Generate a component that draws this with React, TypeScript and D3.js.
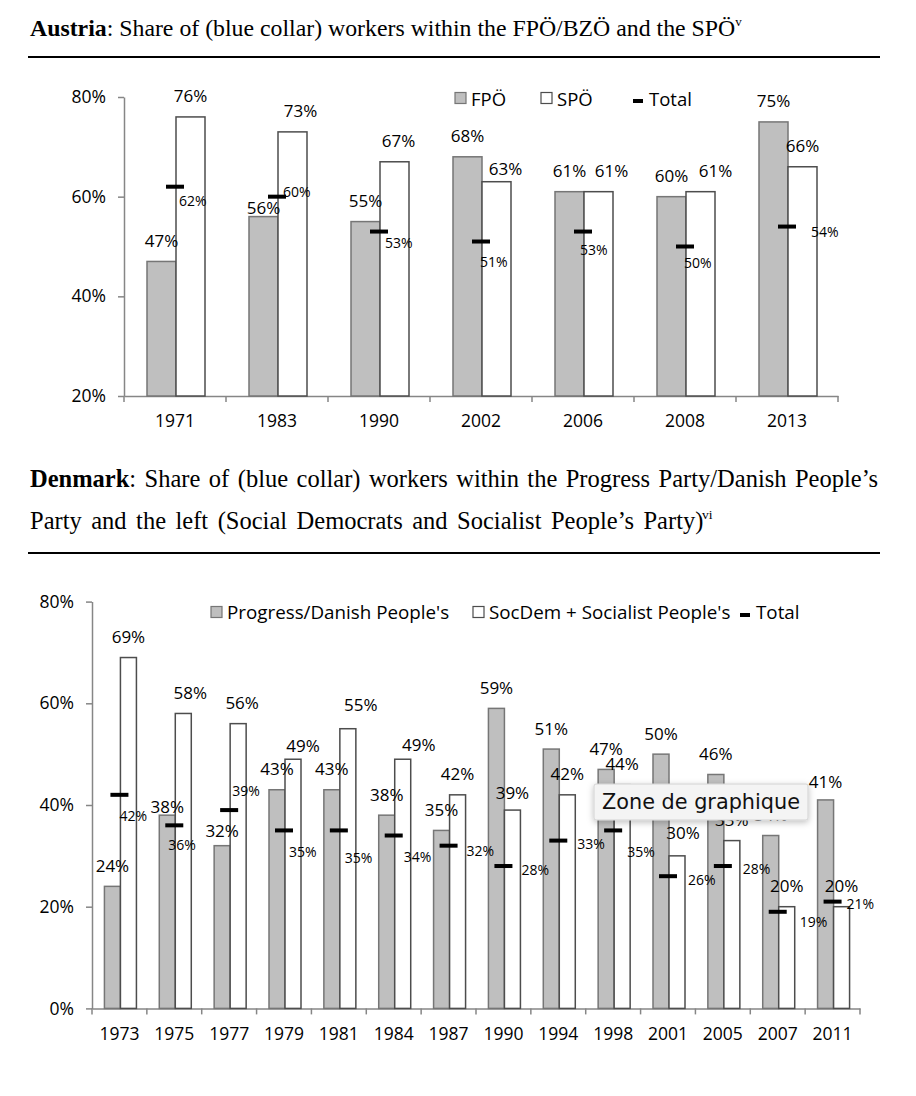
import React, { useEffect, useRef } from 'react';
import * as d3 from 'd3';

// Austria
const atYears = ['1971', '1983', '1990', '2002', '2006', '2008', '2013'];
const atFpo = [47, 56, 55, 68, 61, 60, 75];
const atSpo = [76, 73, 67, 63, 61, 61, 66];
const atTotal = [62, 60, 53, 51, 53, 50, 54];
const atTicks = [20, 40, 60, 80];

// Denmark
const dkYears = ['1973', '1975', '1977', '1979', '1981', '1984', '1987', '1990', '1994', '1998', '2001', '2005', '2007', '2011'];
const dkProgress = [24, 38, 32, 43, 43, 38, 35, 59, 51, 47, 50, 46, 34, 41];
const dkLeft = [69, 58, 56, 49, 55, 49, 42, 39, 42, 44, 30, 33, 20, 20];
const dkTotal = [42, 36, 39, 35, 35, 34, 32, 28, 33, 35, 26, 28, 19, 21];
const dkTicks = [0, 20, 40, 60, 80];

// label nudges, the way Excel shuffled them about: [dx, dy]
const atGrayNudge: Record<number, number[]> = { 1: [0, 12] };
const atWhiteNudge: Record<number, number[]> = { 1: [8, 0], 2: [4, 0], 3: [9, 8], 4: [13, 0], 5: [15, 0] };
const atTotalNudge = [[4, 14], [6, -5], [6, 11], [-1, 20], [-3, 18], [-1, 16], [24, 5]];

const dkGrayNudge: Record<number, number[]> = { 1: [0, 12], 2: [0, 6], 13: [0, 3] };
const dkWhiteNudge: Record<number, number[]> = { 1: [7, 0], 2: [4, 0], 3: [10, 7], 4: [13, -3], 5: [16, 6], 7: [0, 3], 10: [6, -2] };
const dkTotalNudge = [[0, 21], [-6, 19], [3, -20], [5, 21], [6, 27], [10, 21], [18, 5], [18, 3], [19, 3], [14, 21], [20, 3], [20, 2], [22, 10], [14, 2]];

const FONT = '"Open Sans", "Noto Sans", sans-serif';
const SERIF = '"Liberation Serif", "Times New Roman", serif';
const AXIS = '#868686';
const GRAY = '#bfbfbf';

type Cfg = {
  years: string[]; a: number[]; b: number[]; total: number[]; ticks: number[];
  left: number; right: number; top: number; bottom: number; yMin: number; yMax: number;
  pair: [number, number];
  aNudge: Record<number, number[]>; bNudge: Record<number, number[]>; tNudge: number[][];
  legend: { kind: string; x: number; label: string }[]; legendY: number; legendSize: number;
};

function drawChart(svg: d3.Selection<SVGSVGElement, unknown, null, undefined>, c: Cfg) {
  const g = svg.append('g');
  const x0 = d3.scaleBand<string>().domain(c.years).range([c.left, c.right]);
  const bw = x0.bandwidth();
  const x1 = d3.scaleBand<string>().domain(['a', 'b']).range([bw / 2 + c.pair[0], bw / 2 + c.pair[1]]);
  const y = d3.scaleLinear().domain([c.yMin, c.yMax]).range([c.bottom, c.top]);
  const mid = (i: number) => (x0(c.years[i]) ?? 0) + bw / 2;

  // y axis
  const ya = g.append('g')
    .attr('transform', `translate(${c.left},0)`)
    .call(d3.axisLeft(y).tickValues(c.ticks).tickFormat(d => `${d}%`).tickSize(6).tickSizeOuter(0).tickPadding(12));
  ya.select('.domain').attr('stroke', AXIS).attr('stroke-width', 1.5);
  ya.selectAll('.tick line').attr('stroke', AXIS).attr('stroke-width', 1.5);
  ya.selectAll('.tick text').attr('font-family', FONT).attr('font-size', 17.5).attr('fill', '#000');

  // x axis
  const xa = g.append('g')
    .attr('transform', `translate(0,${c.bottom})`)
    .call(d3.axisBottom(x0).tickSize(0).tickSizeOuter(0).tickPadding(19));
  xa.select('.domain').attr('stroke', AXIS).attr('stroke-width', 1.5);
  xa.selectAll('.tick text').attr('font-family', FONT).attr('font-size', 17.5).attr('fill', '#000');
  g.append('g')
    .selectAll('line')
    .data([...c.years.map(d => x0(d) ?? 0), c.right])
    .join('line')
    .attr('x1', d => d).attr('x2', d => d)
    .attr('y1', c.bottom).attr('y2', c.bottom + 6)
    .attr('stroke', AXIS).attr('stroke-width', 1.5);

  // bars
  g.append('g').selectAll('rect').data(c.a).join('rect')
    .attr('x', (d, i) => (x0(c.years[i]) ?? 0) + (x1('a') ?? 0))
    .attr('y', d => y(d))
    .attr('width', x1.bandwidth())
    .attr('height', d => c.bottom - y(d))
    .attr('fill', GRAY).attr('stroke', '#767676').attr('stroke-width', 1.5);
  g.append('g').selectAll('rect').data(c.b).join('rect')
    .attr('x', (d, i) => (x0(c.years[i]) ?? 0) + (x1('b') ?? 0))
    .attr('y', d => y(d))
    .attr('width', x1.bandwidth())
    .attr('height', d => c.bottom - y(d))
    .attr('fill', '#fff').attr('stroke', '#4d4d4d').attr('stroke-width', 1.5);

  // total markers
  g.append('g').selectAll('rect').data(c.total).join('rect')
    .attr('x', (d, i) => mid(i) - 9)
    .attr('y', d => y(d) - 2)
    .attr('width', 18).attr('height', 4)
    .attr('fill', '#000');

  // value labels
  const barLabels = (vals: number[], key: string, nudge: Record<number, number[]>) => {
    g.append('g').selectAll('text').data(vals).join('text')
      .attr('x', (d, i) => (x0(c.years[i]) ?? 0) + (x1(key) ?? 0) + x1.bandwidth() / 2 + (nudge[i]?.[0] ?? 0))
      .attr('y', (d, i) => y(d) - 21 + (nudge[i]?.[1] ?? 0))
      .attr('text-anchor', 'middle')
      .attr('dominant-baseline', 'central')
      .attr('font-family', FONT).attr('font-size', 17).attr('fill', '#000')
      .text(d => `${d}%`);
  };
  barLabels(c.a, 'a', c.aNudge);
  barLabels(c.b, 'b', c.bNudge);

  g.append('g').selectAll('text').data(c.total).join('text')
    .attr('x', (d, i) => mid(i) + c.tNudge[i][0])
    .attr('y', (d, i) => y(d) + c.tNudge[i][1])
    .attr('dominant-baseline', 'central')
    .attr('font-family', FONT).attr('font-size', 14).attr('fill', '#000')
    .text(d => `${d}%`);

  // legend
  const lg = g.append('g');
  c.legend.forEach(item => {
    if (item.kind === 't') {
      lg.append('rect').attr('x', item.x).attr('y', c.legendY + 1).attr('width', 10).attr('height', 4).attr('fill', '#000');
    } else {
      lg.append('rect').attr('x', item.x).attr('y', c.legendY - 5.5).attr('width', 11).attr('height', 11)
        .attr('fill', item.kind === 'a' ? GRAY : '#fff')
        .attr('stroke', item.kind === 'a' ? '#767676' : '#4d4d4d').attr('stroke-width', 1.2);
    }
    lg.append('text')
      .attr('x', item.x + 16).attr('y', c.legendY)
      .attr('dominant-baseline', 'central')
      .attr('font-family', FONT).attr('font-size', c.legendSize).attr('fill', '#000')
      .text(item.label);
  });
}

// stretch the word gaps of a text so that it spans the given width
function fitWidth(t: d3.Selection<SVGTextElement, unknown, null, undefined>, width: number, gaps: number) {
  const len = (t.node() as SVGTextElement).getComputedTextLength();
  t.attr('word-spacing', (width - len) / gaps);
}

const App: React.FC = () => {
  const svgRef = useRef<SVGSVGElement>(null);

  useEffect(() => {
    const svg = d3.select(svgRef.current!);
    svg.selectAll('*').remove();

    const defs = svg.append('defs');
    defs.append('filter').attr('id', 'shadow').attr('x', '-20%').attr('y', '-40%').attr('width', '140%').attr('height', '200%')
      .append('feDropShadow').attr('dx', 0).attr('dy', 2).attr('stdDeviation', 3).attr('flood-opacity', 0.25);

    // Austria title
    const t1 = svg.append('text').attr('x', 30).attr('y', 36)
      .attr('font-family', SERIF).attr('font-size', 23.8).attr('fill', '#000');
    t1.append('tspan').attr('font-weight', 'bold').text('Austria');
    t1.append('tspan').text(': Share of (blue collar) workers within the FPÖ/BZÖ and the SPÖ');
    t1.append('tspan').attr('font-size', 13).attr('dy', -10).text('v');
    svg.append('line').attr('x1', 28).attr('x2', 880).attr('y1', 57).attr('y2', 57).attr('stroke', '#000').attr('stroke-width', 2);

    drawChart(svg, {
      years: atYears, a: atFpo, b: atSpo, total: atTotal, ticks: atTicks,
      left: 124, right: 838, top: 97, bottom: 396, yMin: 20, yMax: 80,
      pair: [-28, 30],
      aNudge: atGrayNudge, bNudge: atWhiteNudge, tNudge: atTotalNudge,
      legend: [{ kind: 'a', x: 455, label: 'FPÖ' }, { kind: 'b', x: 541, label: 'SPÖ' }, { kind: 't', x: 633, label: 'Total' }],
      legendY: 98, legendSize: 18.5,
    });

    // Denmark title (first line justified)
    const d1 = svg.append('text').attr('x', 30).attr('y', 487)
      .attr('font-family', SERIF).attr('font-size', 24.5).attr('fill', '#000');
    d1.append('tspan').attr('font-weight', 'bold').text('Denmark');
    d1.append('tspan').text(': Share of (blue collar) workers within the Progress Party/Danish People’s');
    fitWidth(d1, 848, 10);
    const d2 = svg.append('text').attr('x', 30).attr('y', 529)
      .attr('font-family', SERIF).attr('font-size', 24.5).attr('fill', '#000');
    d2.text('Party and the left (Social Democrats and Socialist People’s Party)');
    fitWidth(d2, 670, 8);
    svg.append('text').attr('x', 702).attr('y', 519)
      .attr('font-family', SERIF).attr('font-size', 13.5).attr('fill', '#000')
      .text('vi');
    svg.append('line').attr('x1', 28).attr('x2', 880).attr('y1', 553).attr('y2', 553).attr('stroke', '#000').attr('stroke-width', 2);

    drawChart(svg, {
      years: dkYears, a: dkProgress, b: dkLeft, total: dkTotal, ticks: dkTicks,
      left: 92, right: 860, top: 601.6, bottom: 1008.4, yMin: 0, yMax: 80,
      pair: [-15, 17],
      aNudge: dkGrayNudge, bNudge: dkWhiteNudge, tNudge: dkTotalNudge,
      legend: [
        { kind: 'a', x: 211, label: "Progress/Danish People's" },
        { kind: 'b', x: 473, label: "SocDem + Socialist People's" },
        { kind: 't', x: 740, label: 'Total' },
      ],
      legendY: 612, legendSize: 18.8,
    });

    // the Excel hover tooltip sitting over the chart
    const tip = svg.append('g');
    tip.append('rect').attr('x', 594).attr('y', 784).attr('width', 214).attr('height', 36).attr('rx', 2)
      .attr('fill', '#f4f4f4').attr('stroke', '#d2d2d2').attr('filter', 'url(#shadow)');
    tip.append('text').attr('x', 602).attr('y', 809)
      .attr('font-family', '"DejaVu Sans", sans-serif').attr('font-size', 20.8).attr('fill', '#111')
      .text('Zone de graphique');
  }, []);

  return (
    <div style={{ position: 'absolute', left: 0, top: 0 }}>
      <svg ref={svgRef} width={916} height={1096} style={{ display: 'block', background: '#fff' }} />
    </div>
  );
};

export default App;
